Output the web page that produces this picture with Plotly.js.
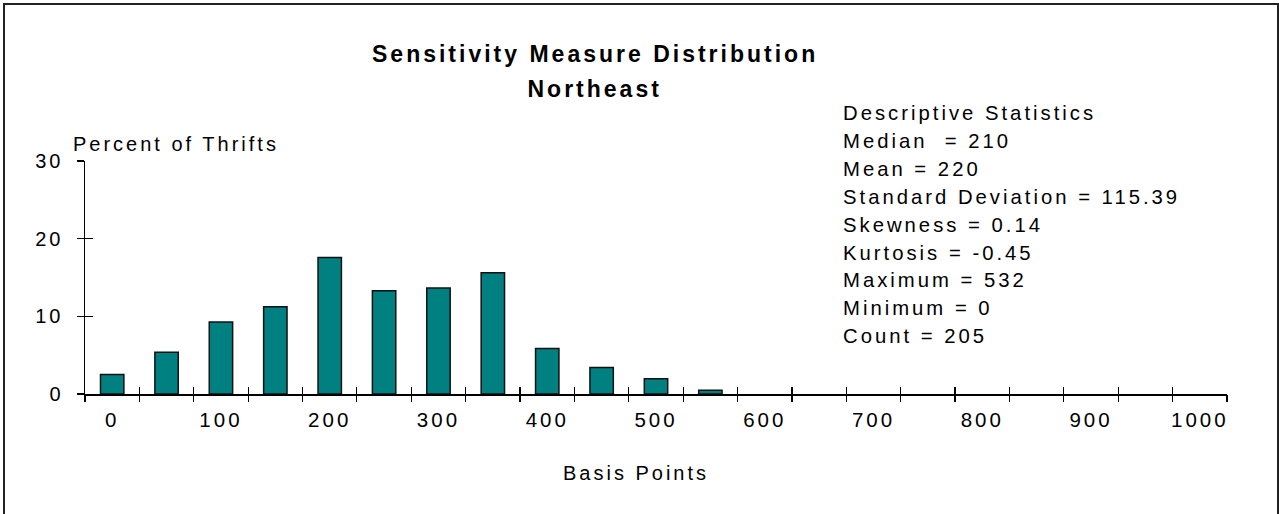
<!DOCTYPE html>
<html>
<head>
<meta charset="utf-8">
<script src="https://cdn.plot.ly/plotly-3.0.1.min.js"></script>
<style>
  html, body { margin: 0; padding: 0; background: #fff; }
  #wrap { position: relative; width: 1279px; height: 514px; overflow: hidden; }
  #plot { position: absolute; left: 0; top: 0; width: 1279px; height: 514px; }
  #frame { position: absolute; left: 3px; top: 3px; width: 1272px; height: 530px;
           border: 2px solid #222; pointer-events: none; }
  #plot .main-svg text { letter-spacing: 3px; white-space: pre; }
  #plot .main-svg .stat-line text { letter-spacing: 3.3px; }
</style>
</head>
<body>
<div id="wrap">
  <div id="plot"></div>
  <div id="frame"></div>
</div>
<script>
// ---- data ----
const binStarts = [0, 50, 100, 150, 200, 250, 300, 350, 400, 450, 500, 550];
const percentOfThrifts = [2.5, 5.37, 9.27, 11.22, 17.56, 13.3, 13.66, 15.61, 5.85, 3.41, 1.95, 0.49];
const xTickVals = [0, 100, 200, 300, 400, 500, 600, 700, 800, 900, 1000];
const yTickVals = [0, 10, 20, 30];
const titleLines = ["Sensitivity Measure Distribution", "Northeast"];
const statsLines = [
  "Descriptive Statistics",
  "Median\u00a0 = 210",
  "Mean = 220",
  "Standard Deviation = 115.39",
  "Skewness = 0.14",
  "Kurtosis = -0.45",
  "Maximum = 532",
  "Minimum = 0",
  "Count = 205"
];
const yTitle = "Percent of Thrifts";
const xTitle = "Basis Points";

// ---- layout helpers (pixel -> paper) ----
const L = 85, R = 1227, T = 161, B = 394;
const px = x => (x - L) / (R - L);
const py = y => (B - y) / (B - T);

const FONT = "Liberation Sans, Arial, sans-serif";

const annotations = [];
titleLines.forEach((t, i) => {
  annotations.push({
    text: "<b>" + t + "</b>", xref: "paper", yref: "paper",
    x: px(595), y: py([54, 89][i]), xanchor: "center", yanchor: "middle",
    showarrow: false, font: {family: FONT, size: 23, color: "#000"}
  });
});
statsLines.forEach((t, i) => {
  annotations.push({
    text: t, xref: "paper", yref: "paper", align: "left",
    x: px(841), y: py(113 + i * 27.9), xanchor: "left", yanchor: "middle",
    showarrow: false, font: {family: FONT, size: 20.3, color: "#000"}
  });
});
annotations.push({
  text: yTitle, xref: "paper", yref: "paper", align: "left",
  x: px(71), y: py(144), xanchor: "left", yanchor: "middle",
  showarrow: false, font: {family: FONT, size: 20, color: "#000"}
});
annotations.push({
  text: xTitle, xref: "paper", yref: "paper",
  x: px(636), y: py(473), xanchor: "center", yanchor: "middle",
  showarrow: false, font: {family: FONT, size: 20, color: "#000"}
});

const xRange = [-25, 1025];
const yRange = [0, 30];

const bars = {
  type: "bar",
  x: binStarts,
  y: percentOfThrifts,
  marker: {color: "#008080", line: {color: "#111", width: 1.5}},
  hoverinfo: "skip"
};
// empty helper traces so the overlaid tick-only axes get drawn
const tickHelpers = [
  {type: "scatter", x: [], y: [], xaxis: "x2", yaxis: "y", hoverinfo: "skip"},
  {type: "scatter", x: [], y: [], xaxis: "x3", yaxis: "y", hoverinfo: "skip"},
  {type: "scatter", x: [], y: [], xaxis: "x", yaxis: "y2", hoverinfo: "skip"}
];

const layout = {
  width: 1279, height: 514,
  margin: {l: L, r: 1279 - R, t: T, b: 514 - B, pad: 0},
  paper_bgcolor: "#fff", plot_bgcolor: "rgba(0,0,0,0)",
  showlegend: false,
  bargap: 0.57,
  font: {family: FONT, size: 20, color: "#000"},
  xaxis: {
    type: "linear", range: xRange, fixedrange: true,
    tickmode: "array", tickvals: xTickVals, ticktext: xTickVals.map(String),
    ticks: "", showgrid: false, zeroline: false,
    showline: true, linecolor: "#000", linewidth: 1.5,
    ticklabelstandoff: 7,
    tickfont: {family: FONT, size: 20.5, color: "#000"}
  },
  xaxis2: {
    type: "linear", range: xRange, overlaying: "x", anchor: "y", fixedrange: true,
    tickmode: "linear", tick0: -25, dtick: 50,
    ticks: "outside", ticklen: 7, tickwidth: 1.2, tickcolor: "#000",
    showticklabels: false, showgrid: false, zeroline: false, showline: false
  },
  xaxis3: {
    type: "linear", range: xRange, overlaying: "x", anchor: "y", fixedrange: true,
    tickmode: "linear", tick0: -25, dtick: 50,
    ticks: "inside", ticklen: 7, tickwidth: 1.2, tickcolor: "#000",
    showticklabels: false, showgrid: false, zeroline: false, showline: false
  },
  yaxis: {
    range: yRange, fixedrange: true,
    tickmode: "array", tickvals: yTickVals, ticktext: yTickVals.map(String),
    ticks: "outside", ticklen: 7, tickwidth: 1.2, tickcolor: "#000",
    showgrid: false, zeroline: false,
    showline: true, linecolor: "#000", linewidth: 1.5,
    ticklabelstandoff: 9,
    tickfont: {family: FONT, size: 20, color: "#000"}
  },
  yaxis2: {
    range: yRange, overlaying: "y", anchor: "x", fixedrange: true,
    tickmode: "array", tickvals: yTickVals,
    ticks: "inside", ticklen: 8, tickwidth: 1.2, tickcolor: "#000",
    showticklabels: false, showgrid: false, zeroline: false, showline: false
  },
  annotations: annotations
};

Plotly.newPlot("plot", [bars].concat(tickHelpers), layout, {displayModeBar: false, staticPlot: true});
</script>
</body>
</html>
